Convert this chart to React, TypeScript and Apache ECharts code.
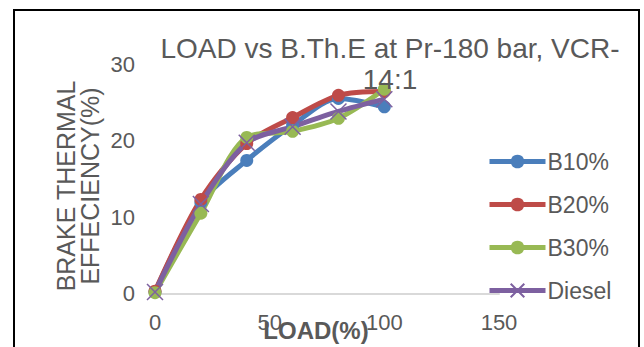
import React, { useEffect, useRef } from "react";
import * as echarts from "echarts";

const loads = [0, 20, 40, 60, 80, 100];
const b10 = [0.2, 11.9, 17.4, 22.0, 25.5, 24.4];
const b20 = [0.3, 12.3, 19.6, 23.0, 25.9, 26.4];
const b30 = [0.1, 10.5, 20.4, 21.2, 22.9, 26.7];
const diesel = [0.2, 11.7, 19.7, 21.8, 23.8, 25.4];
const seriesNames = ["B10%", "B20%", "B30%", "Diesel"];
const seriesColors = ["#4A7EBB", "#BE4B48", "#98B954", "#7D60A0"];
const titleText = "LOAD vs B.Th.E at Pr-180 bar, VCR-\n14:1";
const xTitle = "LOAD(%)";
const yTitle = "BRAKE THERMAL\nEFFECIENCY(%)";

const FONT = "'Liberation Sans', Arial, sans-serif";
const GREY = "#595959";

export default function App() {
  const ref = useRef<HTMLDivElement>(null);
  useEffect(() => {
    if (!ref.current) return;
    const chart = echarts.init(ref.current, undefined, { renderer: "svg" });
    const all = [b10, b20, b30, diesel];
    const series = all.map((vals, i) => ({
      name: seriesNames[i],
      type: "line",
      smooth: 0.3,
      data: loads.map((x, j) => [x, vals[j]]),
      symbol: i === 3 ? "path://M0,0L10,10M10,0L0,10" : "circle",
      symbolSize: i === 3 ? 16 : 13,
      lineStyle: { color: seriesColors[i], width: 5 },
      itemStyle:
        i === 3
          ? { color: seriesColors[i], borderColor: seriesColors[i], borderWidth: 1.5 }
          : { color: seriesColors[i] },
      emphasis: { disabled: true },
    }));
    chart.setOption({
      animation: false,
      textStyle: { fontFamily: FONT },
      title: {
        text: titleText,
        left: 385,
        top: 28,
        textAlign: "center",
        textStyle: { fontFamily: FONT, fontSize: 28, fontWeight: "normal", color: GREY, lineHeight: 31 },
      },
      grid: { left: 155, top: 64, width: 344, height: 229.5 },
      xAxis: {
        type: "value",
        min: 0,
        max: 150,
        interval: 50,
        axisLine: { show: true, lineStyle: { color: "#D9D9D9", width: 2 } },
        axisTick: { show: false },
        splitLine: { show: false },
        axisLabel: { fontSize: 22, color: GREY, margin: 18, fontFamily: FONT },
      },
      yAxis: {
        type: "value",
        min: 0,
        max: 30,
        interval: 10,
        axisLine: { show: false },
        axisTick: { show: false },
        splitLine: { show: false },
        axisLabel: { fontSize: 22, color: GREY, margin: 20, fontFamily: FONT },
      },
      legend: {
        orient: "vertical",
        left: 487,
        top: 150,
        itemWidth: 56,
        itemHeight: 17,
        itemGap: 20,
        padding: 0,
        lineStyle: { width: 5 },
        textStyle: { fontSize: 23, color: GREY, fontFamily: FONT, padding: [0, 0, 0, -3] },
        data: seriesNames,
      },
      graphic: [
        {
          type: "rect",
          shape: { x: 14, y: 10, width: 625, height: 400 },
          style: { fill: "none", stroke: "#000", lineWidth: 2 },
          silent: true,
        },
        {
          type: "text",
          x: 78,
          y: 186,
          rotation: Math.PI / 2,
          style: {
            text: yTitle,
            fontSize: 25,
            lineHeight: 24,
            fontFamily: FONT,
            fill: GREY,
            align: "center",
            verticalAlign: "middle",
          },
          silent: true,
        },
        {
          type: "text",
          x: 316,
          y: 318,
          style: {
            text: xTitle,
            fontSize: 24,
            fontWeight: "bold",
            fontFamily: FONT,
            fill: GREY,
            align: "center",
            verticalAlign: "top",
          },
          silent: true,
        },
      ],
      series,
    });
    return () => chart.dispose();
  }, []);
  return (
    <div
      ref={ref}
      style={{ position: "fixed", left: 0, top: 0, width: 644, height: 347, background: "#fff" }}
    />
  );
}
